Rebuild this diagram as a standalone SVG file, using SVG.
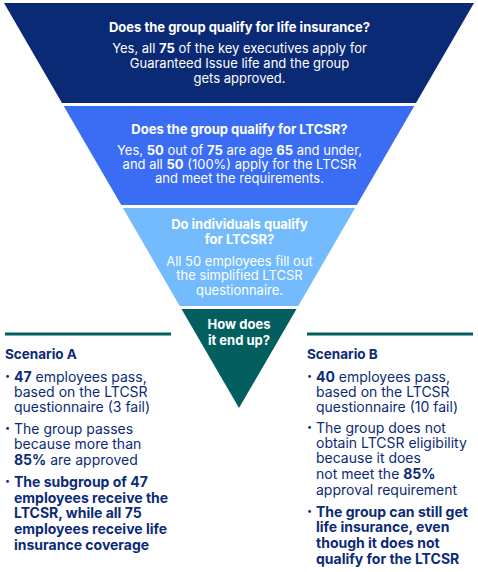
<svg xmlns="http://www.w3.org/2000/svg" width="478" height="572" viewBox="0 0 478 572">
<style>
text{font-family:Inter,"Liberation Sans",Arial,sans-serif;font-size:13px}
.w{fill:#ffffff}
.c{text-anchor:middle}
.h{font-weight:700}
.b{font-weight:700}
.n{fill:#0c2b76;font-size:14px}
.sc{font-size:13.5px;font-weight:700}
.dot{font-size:9px}
.rule{stroke:#045f5f;stroke-width:3;fill:none}
</style>
<rect width="478" height="572" fill="#ffffff"/>
<g id="stage1">
<polygon points="4,3 474,3 416,103 62,103" fill="#0b2a75"/>
<text class="w c h" x="239.5" y="32">Does the group qualify for life insurance?</text>
<text class="w c" x="239.5" y="53">Yes, all <tspan class="b">75</tspan> of the key executives apply for</text>
<text class="w c" x="239.5" y="68">Guaranteed Issue life and the group</text>
<text class="w c" x="239.5" y="83">gets approved.</text>
</g>
<g id="stage2">
<polygon points="63.7,106 414.3,106 356.8,205 121.2,205" fill="#3a6cf4"/>
<text class="w c h" x="239.5" y="134">Does the group qualify for LTCSR?</text>
<text class="w c" x="239.5" y="155">Yes, <tspan class="b">50</tspan> out of <tspan class="b">75</tspan> are age <tspan class="b">65</tspan> and under,</text>
<text class="w c" x="239.5" y="169">and all <tspan class="b">50</tspan> (100%) apply for the LTCSR</text>
<text class="w c" x="239.5" y="183">and meet the requirements.</text>
</g>
<g id="stage3">
<polygon points="122.9,208 355.1,208 298.3,306 179.7,306" fill="#74bbfd"/>
<text class="w c h" x="239.5" y="229">Do individuals qualify</text>
<text class="w c h" x="239.5" y="244">for LTCSR?</text>
<text class="w c" x="239.5" y="266">All 50 employees fill out</text>
<text class="w c" x="239.5" y="280">the simplified LTCSR</text>
<text class="w c" x="239.5" y="295">questionnaire.</text>
</g>
<g id="stage4">
<polygon points="181.5,309 296.5,309 239,408" fill="#035f5f"/>
<text class="w c h" x="239" y="329">How does</text>
<text class="w c h" x="239" y="345">it end up?</text>
</g>
<g id="connectors">
<line class="rule" x1="5" y1="334" x2="171" y2="334"/>
<line class="rule" x1="307" y1="334" x2="473" y2="334"/>
</g>
<g id="scenarioA">
<text class="n sc" x="5" y="359">Scenario A</text>
<text class="n dot" x="5" y="379">•</text>
<text class="n" x="14" y="382"><tspan class="b">47</tspan> employees pass,</text>
<text class="n" x="14" y="397">based on the LTCSR</text>
<text class="n" x="14" y="412">questionnaire (3 fail)</text>
<text class="n dot" x="5" y="431">•</text>
<text class="n" x="14" y="434">The group passes</text>
<text class="n" x="14" y="449">because more than</text>
<text class="n" x="14" y="465"><tspan class="b">85%</tspan> are approved</text>
<text class="n dot" x="5" y="484">•</text>
<text class="n b" x="14" y="487">The subgroup of 47</text>
<text class="n b" x="14" y="503">employees receive the</text>
<text class="n b" x="14" y="518">LTCSR, while all 75</text>
<text class="n b" x="14" y="534">employees receive life</text>
<text class="n b" x="14" y="550">insurance coverage</text>
</g>
<g id="scenarioB">
<text class="n sc" x="307" y="359">Scenario B</text>
<text class="n dot" x="307" y="379">•</text>
<text class="n" x="316" y="382"><tspan class="b">40</tspan> employees pass,</text>
<text class="n" x="316" y="397">based on the LTCSR</text>
<text class="n" x="316" y="412">questionnaire (10 fail)</text>
<text class="n dot" x="307" y="430">•</text>
<text class="n" x="316" y="433">The group does not</text>
<text class="n" x="316" y="448">obtain LTCSR eligibility</text>
<text class="n" x="316" y="463">because it does</text>
<text class="n" x="316" y="479">not meet the <tspan class="b">85%</tspan></text>
<text class="n" x="316" y="495">approval requirement</text>
<text class="n dot" x="307" y="514">•</text>
<text class="n b" x="316" y="517">The group can still get</text>
<text class="n b" x="316" y="532">life insurance, even</text>
<text class="n b" x="316" y="548">though it does not</text>
<text class="n b" x="316" y="564">qualify for the LTCSR</text>
</g>
</svg>
